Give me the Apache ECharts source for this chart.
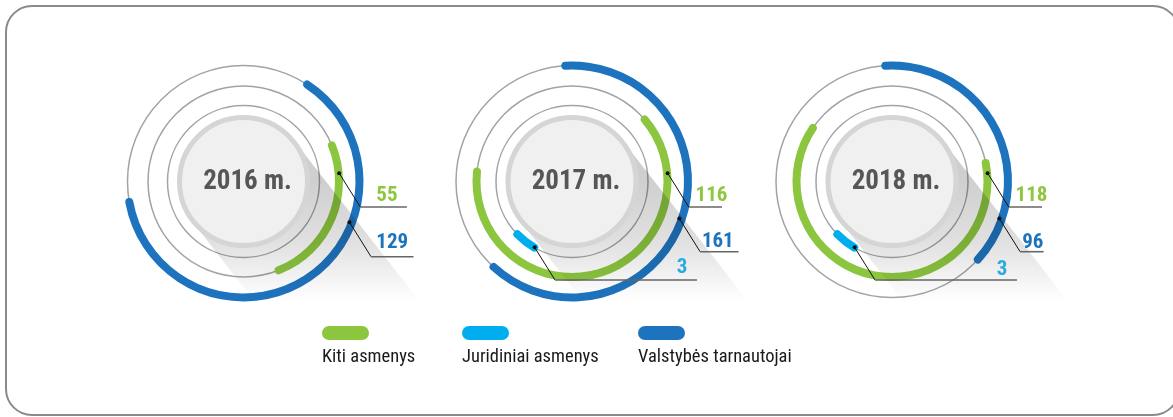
<!DOCTYPE html>
<html>
<head>
<meta charset="utf-8">
<script src="https://cdn.jsdelivr.net/npm/echarts@6/dist/echarts.min.js"></script>
<style>
  html, body { margin: 0; padding: 0; background: #fff; }
  #chart { width: 1173px; height: 417px; }
</style>
</head>
<body>
<div id="chart"></div>
<script>
// data
const years = ['2016 m.', '2017 m.', '2018 m.'];
const seriesNames = ['Kiti asmenys', 'Juridiniai asmenys', 'Valstybės tarnautojai'];
const kitiAsmenys = [55, 116, 118];
const juridiniaiAsmenys = [null, 3, 3];
const valstybesTarnautojai = [129, 161, 96];

// layout
const FONT = '"Roboto Condensed", Roboto, sans-serif';
const colors = ['#8cc63f', '#00aeef', '#1e73be'];
const labelColors = ['#8dc63f', '#29abe2', '#1c75bc'];
const centersX = [243.5, 572, 892];
const centerY = 181.5;
const ringR = [95.5, 76, 116];
// per ring: start angle of the arc and the value of one full turn (gauge max)
const arcStart = [[22.2, 40.4, 11.2], [0, -119.8, -119.8], [56.7, 93.3, 93.3]];
const arcFull = [[218.5, 184.5, 188.6], [1, 66.7, 66.7], [205, 256.6, 254.9]];
// label layout relative to the centre
const labelPos = [
  [[143.4, 14.5], [139.5, 14.5], [139.5, 14.5]],
  [null, [110, 86.5], [110, 88]],
  [[148.7, 61.5], [145.8, 60], [140.8, 61]]
];
const dotR = [96, 75.7, 113.5];
const dotAngle = [[5, 5, 5], [0, -119.6, -119.6], [-21, -19, -19]];
const lineY = [[25.5, 25.5, 25.5], [0, 98.5, 98.5], [75.2, 70.2, 70.2]];
const lineEnd = [[163.4, 150, 150], [0, 125, 125], [170, 166.6, 151.6]];

const values = [kitiAsmenys, juridiniaiAsmenys, valstybesTarnautojai];

const chart = echarts.init(document.getElementById('chart'));

const series = [];
const graphics = [];

graphics.push({
  type: 'rect', z: -10,
  shape: { x: 6, y: 6, width: 1173, height: 409, r: 26 },
  style: { fill: '#fff', stroke: '#8a8a8a', lineWidth: 2 }
});

years.forEach((year, y) => {
  const cx = centersX[y];
  // thin gray circles
  [ringR[1], ringR[0], ringR[2]].forEach(r => {
    graphics.push({
      type: 'circle', z: 0,
      shape: { cx: cx, cy: centerY, r: r },
      style: { fill: 'none', stroke: '#9fa4a9', lineWidth: 1.5 }
    });
  });
  // long shadow, cut off horizontally below the rings
  const th = 52 * Math.PI / 180;
  const d = [Math.cos(th), Math.sin(th)];
  const n = [Math.sin(th), -Math.cos(th)];
  const R = 65, cut = 120;
  const t1 = [cx + R * n[0], centerY + R * n[1]];
  const t2 = [cx - R * n[0], centerY - R * n[1]];
  const end = p => {
    const t = (centerY + cut - p[1]) / d[1];
    return [p[0] + t * d[0], centerY + cut];
  };
  graphics.push({
    type: 'polygon', z: 10,
    shape: { points: [t1, end(t1), end(t2), t2] },
    style: {
      fill: new echarts.graphic.LinearGradient(cx, centerY, cx, centerY + cut, [
        { offset: 0, color: 'rgba(0,0,0,0.19)' },
        { offset: 0.5, color: 'rgba(0,0,0,0.12)' },
        { offset: 1, color: 'rgba(0,0,0,0)' }
      ], true)
    }
  });
  // centre disc
  graphics.push({
    type: 'circle', z: 11,
    shape: { cx: cx, cy: centerY, r: 64 },
    style: { fill: '#f0f0f0', stroke: '#d5d5d5', lineWidth: 5 }
  });
  graphics.push({
    type: 'text', z: 12,
    x: cx + 4, y: centerY + 1,
    style: {
      text: year, fill: '#565656', fontFamily: FONT, fontWeight: 'bold', fontSize: 27,
      align: 'center', verticalAlign: 'middle'
    }
  });

  values.forEach((vals, k) => {
    const v = vals[y];
    if (v == null) return;
    const r = ringR[k];
    series.push({
      name: seriesNames[k],
      type: 'gauge', z: 2,
      center: [cx, centerY],
      radius: r + 4,
      startAngle: arcStart[k][y],
      endAngle: arcStart[k][y] - 360,
      clockwise: true,
      min: 0, max: arcFull[k][y],
      progress: { show: true, width: 8, roundCap: true, itemStyle: { color: colors[k] } },
      itemStyle: { color: colors[k] },
      axisLine: { show: false },
      axisTick: { show: false }, splitLine: { show: false }, axisLabel: { show: false },
      pointer: { show: false }, anchor: { show: false }, title: { show: false },
      detail: { show: false },
      animation: false,
      data: [{ value: v }]
    });
    // value label above the shadow
    series.push({
      name: seriesNames[k],
      type: 'gauge', z: 20,
      center: [cx, centerY], radius: r,
      min: 0, max: arcFull[k][y],
      progress: { show: false }, axisLine: { show: false },
      axisTick: { show: false }, splitLine: { show: false }, axisLabel: { show: false },
      pointer: { show: false }, anchor: { show: false }, title: { show: false },
      detail: {
        show: true, formatter: '{value}',
        offsetCenter: labelPos[k][y],
        color: labelColors[k], fontFamily: FONT, fontWeight: 'bold', fontSize: 21
      },
      animation: false,
      data: [{ value: v }]
    });
    // leader line
    const a = dotAngle[k][y] * Math.PI / 180;
    const dx = dotR[k] * Math.cos(a), dy = -dotR[k] * Math.sin(a);
    const ly = lineY[k][y];
    const ex = dx + (ly - dy) * 0.625;
    graphics.push({
      type: 'polyline', z: 13,
      shape: { points: [[cx + dx, centerY + dy], [cx + ex, centerY + ly]] },
      style: { stroke: '#111', lineWidth: 1 }
    });
    graphics.push({
      type: 'line', z: 13,
      shape: { x1: cx + ex, y1: centerY + ly, x2: cx + lineEnd[k][y], y2: centerY + ly },
      style: { stroke: '#666', lineWidth: 1.6 }
    });
    graphics.push({
      type: 'circle', z: 14,
      shape: { cx: cx + dx, cy: centerY + dy, r: 2 },
      style: { fill: '#111' }
    });
  });
});

const legendLeft = [317, 457, 633];
const legends = seriesNames.map((name, i) => ({
  left: legendLeft[i], top: 326, padding: 0,
  selectedMode: false, icon: 'none', itemWidth: 0, itemHeight: 0,
  data: [name],
  formatter: nm => '{s|\u00a0}\n{t|' + nm + '}',
  textStyle: {
    rich: {
      s: { width: 47, height: 14, borderRadius: 7, backgroundColor: colors[i], lineHeight: 14 },
      t: { fontFamily: FONT, fontSize: 18.5, color: '#1a1a1a', lineHeight: 34 }
    }
  }
}));

chart.setOption({
  animation: false,
  legend: legends,
  graphic: graphics,
  series: series
});
</script>
</body>
</html>
